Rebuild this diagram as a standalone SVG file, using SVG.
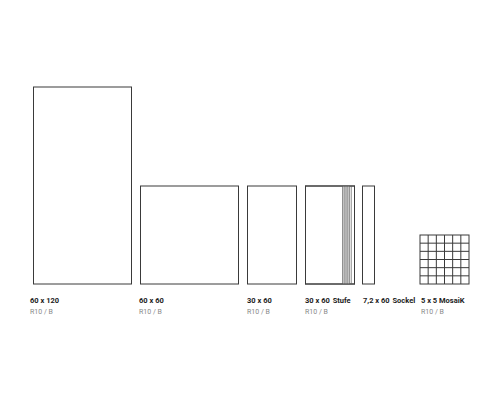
<svg xmlns="http://www.w3.org/2000/svg" width="500" height="400" viewBox="0 0 500 400">
<style>
.t{fill:none;stroke:#3a3a3a;stroke-width:1}
.g{fill:none;stroke:#777;stroke-width:0.8}
.n{font-family:Roboto,"Liberation Sans",sans-serif;font-weight:bold;font-size:7.5px;fill:#222}
.s{font-family:Roboto,"Liberation Sans",sans-serif;font-size:7px;fill:#888}
</style>
<rect width="500" height="400" fill="#fff"/>
<g id="tile-60x120">
<rect class="t" x="33.5" y="87" width="98" height="197"/>
<text class="n" x="30" y="303">60 x 120</text>
<text class="s" x="30" y="314">R10 / B</text>
</g>
<g id="tile-60x60">
<rect class="t" x="140.5" y="186" width="98" height="98"/>
<text class="n" x="139" y="303">60 x 60</text>
<text class="s" x="139" y="314">R10 / B</text>
</g>
<g id="tile-30x60">
<rect class="t" x="247.5" y="186" width="49" height="98"/>
<text class="n" x="247" y="303">30 x 60</text>
<text class="s" x="247" y="314">R10 / B</text>
</g>
<g id="tile-stufe">
<rect class="t" x="305.5" y="186" width="49" height="98"/>
<rect x="342.5" y="186" width="7.5" height="98" fill="#ddd"/>
<line class="g" x1="342.5" y1="186" x2="342.5" y2="284"/>
<line class="g" x1="344.2" y1="186" x2="344.2" y2="284"/>
<line class="g" x1="346" y1="186" x2="346" y2="284"/>
<line class="g" x1="347.8" y1="186" x2="347.8" y2="284"/>
<line class="g" x1="349.6" y1="186" x2="349.6" y2="284"/>
<line class="g" x1="351.3" y1="186" x2="351.3" y2="284"/>
<rect class="t" x="305.5" y="186" width="49" height="98"/>
<text class="n" x="305" y="303">30 x 60 <tspan dx="1">Stufe</tspan></text>
<text class="s" x="305" y="314">R10 / B</text>
</g>
<g id="tile-sockel">
<rect class="t" x="362.5" y="186" width="12" height="98"/>
<text class="n" x="363" y="303">7,2 x 60 <tspan dx="1">Sockel</tspan></text>
</g>
<g id="tile-mosaik">
<rect class="t" x="420" y="235" width="49" height="49"/>
<path class="t" d="M428.17 235V284M436.33 235V284M444.5 235V284M452.67 235V284M460.83 235V284M420 243.17H469M420 251.33H469M420 259.5H469M420 267.67H469M420 275.83H469"/>
<text class="n" x="421" y="303">5 x 5 MosaiK</text>
<text class="s" x="421" y="314">R10 / B</text>
</g>
<g id="connectors"/>
</svg>
